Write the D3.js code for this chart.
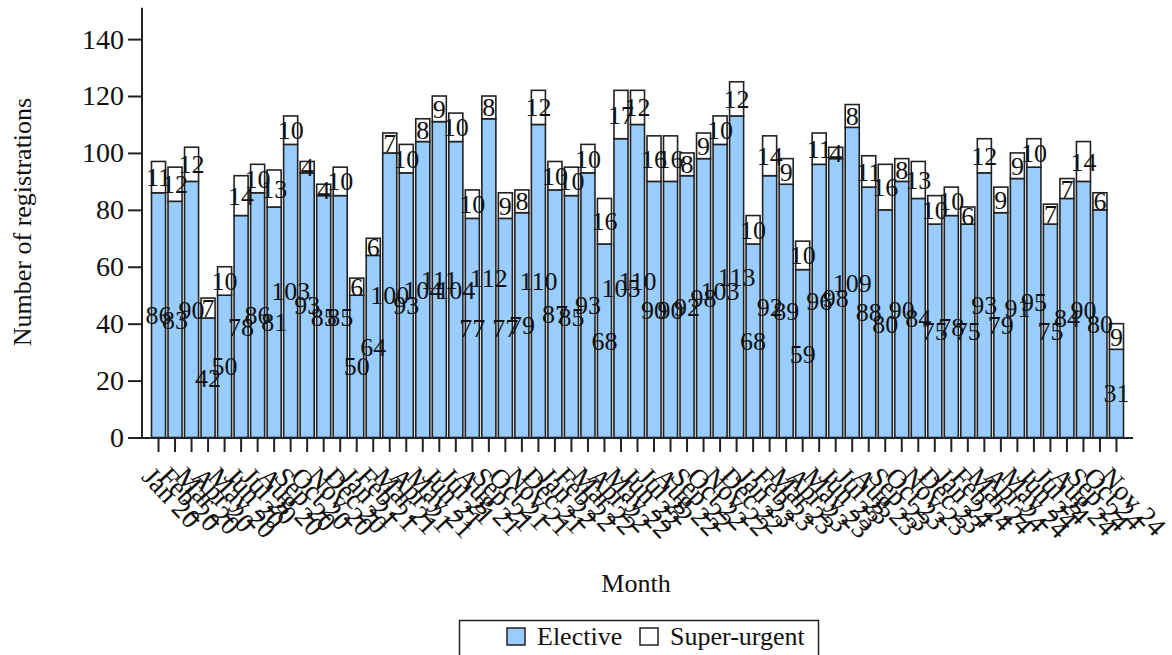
<!DOCTYPE html>
<html><head><meta charset="utf-8">
<script src="https://cdn.jsdelivr.net/npm/d3@7"></script>
<style>body{margin:0;background:#fff}svg{display:block}text{font-family:"Liberation Serif","Times New Roman",serif;fill:#111}</style>
</head><body>
<svg id="c" width="1172" height="655"></svg>
<script>
const months = ["Jan","Feb","Mar","Apr","May","Jun","Jul","Aug","Sep","Oct","Nov","Dec"];
const categories = [];
for (let y = 20; y <= 24; y++) for (let m = 0; m < 12; m++) { if (y === 24 && m > 10) break; categories.push(months[m] + " " + y); }
const elective = [86,83,90,42,50,78,86,81,103,93, 85,85,50,64,100,93,104,111,104,77, 112,77,79,110,87,85,93,68,105,110, 90,90,92,98,103,113,68,92,89,59, 96,98,109,88,80,90,84,75,78,75, 93,79,91,95,75,84,90,80,31];
const superUrgent = [11,12,12,7,10,14,10,13,10,4, 4,10,6,6,7,10,8,9,10,10, 8,9,8,12,10,10,10,16,17,12, 16,16,8,9,10,12,10,14,9,10, 11,4,8,11,16,8,13,10,10,6, 12,9,9,10,7,7,14,6,9];
const yTicks = [0,20,40,60,80,100,120,140];
const seriesNames = ["Elective","Super-urgent"];
const colors = ["#99ccff","#ffffff"];

const svg = d3.select("#c");
const x = d3.scaleBand().domain(categories).range([151.5, 1123.5]).paddingInner(0.15).paddingOuter(0);
const y = d3.scaleLinear().domain([0,151]).range([437.5, 7.8]);
const FS = 26;

// bars
const g = svg.append("g");
categories.forEach((c,i) => {
  const e = elective[i], s = superUrgent[i];
  g.append("rect").attr("x", x(c)).attr("width", x.bandwidth()).attr("y", y(e)).attr("height", y(0)-y(e))
    .attr("fill", colors[0]).attr("stroke", "#222").attr("stroke-width", 1.6);
  g.append("rect").attr("x", x(c)).attr("width", x.bandwidth()).attr("y", y(e+s)).attr("height", y(e)-y(e+s))
    .attr("fill", colors[1]).attr("stroke", "#222").attr("stroke-width", 1.6);
});
// labels
categories.forEach((c,i) => {
  const e = elective[i], s = superUrgent[i];
  const cx = x(c) + x.bandwidth()/2;
  g.append("text").attr("x", cx).attr("y", y(e/2)).attr("dy","0.35em").attr("text-anchor","middle").attr("font-size",FS).text(e);
  g.append("text").attr("x", cx).attr("y", y(e + s/2)).attr("dy","0.35em").attr("text-anchor","middle").attr("font-size",FS).text(s);
});

// y axis
const ya = svg.append("g").attr("transform","translate(142,0)")
  .call(d3.axisLeft(y).tickValues(yTicks).tickSize(14).tickPadding(4));
ya.select(".domain").attr("stroke","#222").attr("stroke-width",2).attr("d","M0,7.8V438.5");
ya.selectAll(".tick line").attr("stroke","#222").attr("stroke-width",2);
ya.selectAll(".tick text").attr("font-size",28).attr("font-family","Liberation Serif").attr("fill","#111");

// x axis
const xa = svg.append("g").attr("transform","translate(0,438)")
  .call(d3.axisBottom(x).tickSize(14).tickPadding(4));
xa.select(".domain").attr("stroke","#222").attr("stroke-width",2).attr("d","M142,0H1133");
xa.selectAll(".tick line").attr("stroke","#222").attr("stroke-width",2);
xa.selectAll(".tick text").attr("font-size",27.5).attr("font-family","Liberation Serif").attr("fill","#111")
  .attr("text-anchor","start").attr("x",0).attr("y",0).attr("dy",0)
  .attr("transform","translate(-18,40) rotate(47)");

// axis titles
svg.append("text").attr("x",636).attr("y",592).attr("text-anchor","middle").attr("font-size",FS).text("Month");
svg.append("text").attr("transform","translate(31,222) rotate(-90)").attr("text-anchor","middle").attr("font-size",FS).text("Number of registrations");

// legend
const lg = svg.append("g");
lg.append("rect").attr("x",459.5).attr("y",620.5).attr("width",359).attr("height",50).attr("fill","none").attr("stroke","#222").attr("stroke-width",1.5);
const lx = [507, 640];
seriesNames.forEach((n,i) => {
  lg.append("rect").attr("x",lx[i]).attr("y",628).attr("width",18).attr("height",17).attr("fill",colors[i]).attr("stroke","#222").attr("stroke-width",1.5);
  lg.append("text").attr("x",lx[i]+30).attr("y",645).attr("font-size",FS).text(n);
});
</script>
</body></html>
